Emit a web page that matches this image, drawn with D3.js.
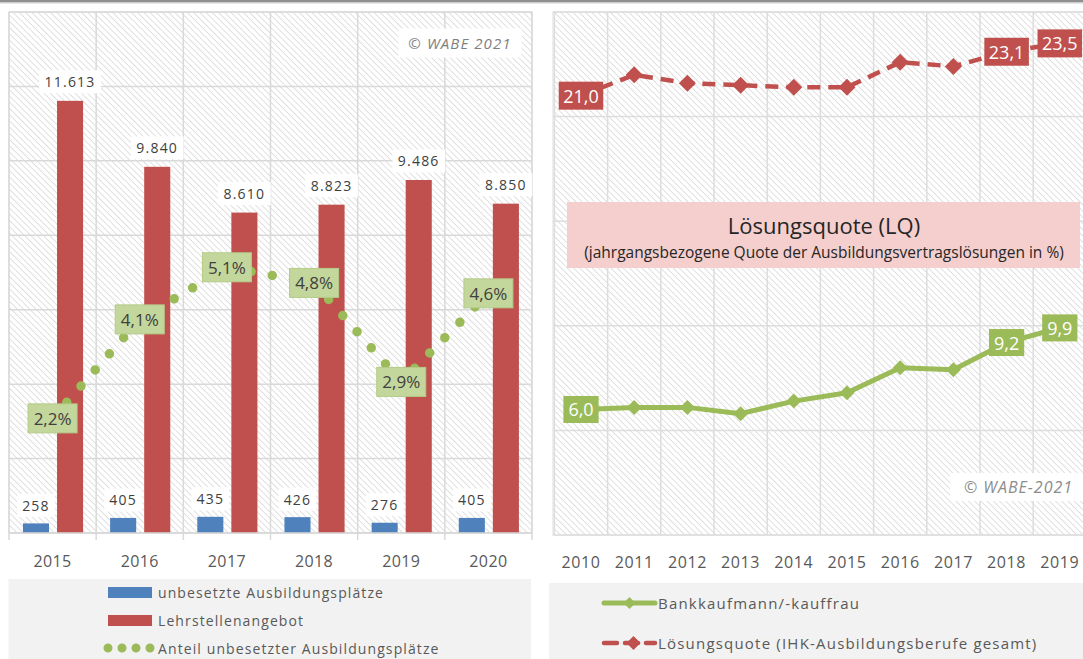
<!DOCTYPE html>
<html>
<head>
<meta charset="utf-8">
<script src="https://cdn.jsdelivr.net/npm/d3@7"></script>
<style>
  body { margin: 0; background: #fff; }
  svg { display: block; }
  text { font-family: "Open Sans", sans-serif; }
</style>
</head>
<body>
<div id="chart"></div>
<script>
// left chart: offer vs. unfilled training places
var leftYears = ['2015', '2016', '2017', '2018', '2019', '2020'];
var unbesetzt = [258, 405, 435, 426, 276, 405];
var angebot = [11613, 9840, 8610, 8823, 9486, 8850];
var anteil = [2.2, 4.1, 5.1, 4.8, 2.9, 4.6];
var leftTicks = [0, 2000, 4000, 6000, 8000, 10000, 12000, 14000];

// right chart: Lösungsquote
var rightYears = ['2010', '2011', '2012', '2013', '2014', '2015', '2016', '2017', '2018', '2019'];
var bankkaufleute = [6.0, 6.1, 6.1, 5.8, 6.4, 6.8, 8.0, 7.9, 9.2, 9.9];
var ihkGesamt = [21.0, 22.0, 21.6, 21.5, 21.4, 21.4, 22.6, 22.4, 23.1, 23.5];
var rightTicks = [0, 5, 10, 15, 20, 25];

var legendLeft = ['unbesetzte Ausbildungsplätze', 'Lehrstellenangebot', 'Anteil unbesetzter Ausbildungsplätze'];
var legendRight = ['Bankkaufmann/-kauffrau', 'Lösungsquote (IHK-Ausbildungsberufe gesamt)'];

(function(d3){
  var BLUE = '#4f81bd', RED = '#c0504d', GREEN = '#9bbb59', GRID = '#d9d9d9', AXIS_TXT = '#595959';

  var de = d3.formatLocale({ decimal: ',', thousands: '.', grouping: [3], currency: ['', ' €'] });
  var fmtInt = de.format(',d');
  var fmt1 = de.format('.1f');

  var svg = d3.select('#chart').append('svg')
    .attr('width', 1083)
    .attr('height', 659);

  svg.append('rect').attr('width', 1083).attr('height', 659).attr('fill', '#fff');

  // diagonal hatch used as plot background
  var defs = svg.append('defs');
  defs.append('pattern')
      .attr('id', 'hatch')
      .attr('patternUnits', 'userSpaceOnUse')
      .attr('width', 4.4)
      .attr('height', 10)
      .attr('patternTransform', 'rotate(-45)')
    .append('line')
      .attr('x1', 0).attr('y1', 0).attr('x2', 0).attr('y2', 10)
      .attr('stroke', '#d0d0d0')
      .attr('stroke-width', 1.3);

  // window border at the top
  svg.append('rect').attr('x', 0).attr('y', 0).attr('width', 1083).attr('height', 2).attr('fill', '#8f8f8f');
  svg.append('rect').attr('x', 0).attr('y', 2).attr('width', 1083).attr('height', 1.5).attr('fill', '#cdcdcd');

  function boxLabel(g, x, y, txt, o){
    var grp = g.append('g');
    var t = grp.append('text')
      .attr('x', x).attr('y', y)
      .attr('text-anchor', 'middle')
      .attr('dominant-baseline', 'central')
      .attr('font-size', o.size)
      .attr('letter-spacing', o.ls || 0)
      .attr('fill', o.color)
      .text(txt);
    var bb = t.node().getBBox();
    var w = o.w || bb.width + 2 * o.px;
    var h = o.h || bb.height + 2 * o.py;
    grp.insert('rect', 'text')
      .attr('x', x - w / 2).attr('y', y - h / 2)
      .attr('width', w).attr('height', h)
      .attr('fill', o.fill)
      .attr('stroke', o.stroke || 'none')
      .attr('stroke-width', 1);
    return grp;
  }

  function diamond(r){
    return 'M0,' + (-r) + 'L' + r + ',0L0,' + r + 'L' + (-r) + ',0Z';
  }

  /* ---------- left chart ---------- */
  var L = { left: 9, right: 532, top: 12, bottom: 533 };
  var gL = svg.append('g');

  var xL = d3.scaleBand().domain(leftYears).range([L.left, L.right]);
  var bw = xL.bandwidth();
  var xL1 = d3.scaleBand().domain(['u', 'a']).range([0.16 * bw, 0.85 * bw]).paddingInner(0.235);
  var yL = d3.scaleLinear().domain([0, 14000]).range([L.bottom, L.top]);
  var yP = d3.scaleLinear().domain([0, 10]).range([L.bottom, L.top]);

  gL.append('rect')
    .attr('x', L.left).attr('y', L.top)
    .attr('width', L.right - L.left).attr('height', L.bottom - L.top)
    .attr('fill', 'url(#hatch)')
    .attr('stroke', '#e0e0e0');

  gL.selectAll('.hgrid').data(leftTicks).enter().append('line')
    .attr('x1', L.left).attr('x2', L.right)
    .attr('y1', function(d){ return yL(d); }).attr('y2', function(d){ return yL(d); })
    .attr('stroke', GRID).attr('stroke-width', 1.5);

  var bounds = leftYears.map(function(d){ return xL(d); }).concat([L.right]);
  gL.selectAll('.vgrid').data(bounds).enter().append('line')
    .attr('x1', function(d){ return d; }).attr('x2', function(d){ return d; })
    .attr('y1', L.top).attr('y2', L.bottom + 7)
    .attr('stroke', GRID).attr('stroke-width', 1.5);

  gL.selectAll('.bar-u').data(unbesetzt).enter().append('rect')
    .attr('x', function(d, i){ return xL(leftYears[i]) + xL1('u'); })
    .attr('y', function(d){ return yL(d); })
    .attr('width', xL1.bandwidth())
    .attr('height', function(d){ return yL(0) - yL(d); })
    .attr('fill', BLUE);

  gL.selectAll('.bar-a').data(angebot).enter().append('rect')
    .attr('x', function(d, i){ return xL(leftYears[i]) + xL1('a'); })
    .attr('y', function(d){ return yL(d); })
    .attr('width', xL1.bandwidth())
    .attr('height', function(d){ return yL(0) - yL(d); })
    .attr('fill', RED);

  var cx = function(d, i){ return xL(leftYears[i]) + bw / 2; };

  gL.append('path')
    .datum(anteil)
    .attr('d', d3.line().x(cx).y(function(d){ return yP(d); }))
    .attr('fill', 'none')
    .attr('stroke', GREEN)
    .attr('stroke-width', 9.5)
    .attr('stroke-linecap', 'round')
    .attr('stroke-dasharray', '0 21.5');

  unbesetzt.forEach(function(d, i){
    boxLabel(gL, xL(leftYears[i]) + xL1('u') + xL1.bandwidth() / 2, yL(d) - 18, fmtInt(d),
      { size: 14, ls: 1.2, color: '#404040', fill: '#fff', px: 5, py: 2 });
  });
  angebot.forEach(function(d, i){
    boxLabel(gL, xL(leftYears[i]) + xL1('a') + xL1.bandwidth() / 2, yL(d) - 19, fmtInt(d),
      { size: 14, ls: 1.2, color: '#404040', fill: '#fff', px: 5.5, py: 2 });
  });
  anteil.forEach(function(d, i){
    boxLabel(gL, cx(d, i), yP(d), fmt1(d) + '%',
      { size: 17, color: '#404040', fill: '#c3d69b', stroke: '#b4cb88', w: 49, h: 29 });
  });

  boxLabel(gL, 460, 43, '© WABE 2021',
    { size: 15, ls: 1.1, color: '#7f7f7f', fill: '#fff', w: 123, h: 29 })
    .select('text').attr('font-style', 'italic');

  gL.append('line')
    .attr('x1', L.left).attr('x2', L.right)
    .attr('y1', L.bottom).attr('y2', L.bottom)
    .attr('stroke', GRID).attr('stroke-width', 1.5);

  gL.selectAll('.xlab').data(leftYears).enter().append('text')
    .attr('x', function(d){ return xL(d) + bw / 2; })
    .attr('y', 561)
    .attr('text-anchor', 'middle')
    .attr('dominant-baseline', 'central')
    .attr('font-size', 16)
    .attr('letter-spacing', 0.4)
    .attr('fill', AXIS_TXT)
    .text(function(d){ return d; });

  // legend
  var lgL = gL.append('g');
  lgL.append('rect').attr('x', 8.5).attr('y', 579).attr('width', 522.5).attr('height', 85).attr('fill', '#f2f2f2');
  lgL.append('rect').attr('x', 108).attr('y', 587).attr('width', 44).attr('height', 11).attr('fill', BLUE);
  lgL.append('rect').attr('x', 108).attr('y', 615).attr('width', 44).attr('height', 11).attr('fill', RED);
  lgL.append('line')
    .attr('x1', 108).attr('x2', 151).attr('y1', 648).attr('y2', 648)
    .attr('stroke', GREEN).attr('stroke-width', 9).attr('stroke-linecap', 'round')
    .attr('stroke-dasharray', '0 14');
  lgL.selectAll('.lt').data(legendLeft).enter().append('text')
    .attr('x', 158)
    .attr('y', function(d, i){ return [592, 620, 648][i]; })
    .attr('dominant-baseline', 'central')
    .attr('font-size', 14)
    .attr('letter-spacing', 1.1)
    .attr('fill', AXIS_TXT)
    .text(function(d){ return d; });

  /* ---------- right chart ---------- */
  var R = { left: 553, right: 1086.4, top: 12, bottom: 535 };
  var gR = svg.append('g');

  var xR = d3.scaleBand().domain(rightYears).range([554.4, R.right]);
  var bwR = xR.bandwidth();
  var yR = d3.scaleLinear().domain([0, 25]).range([R.bottom, R.top]);
  var px = function(d, i){ return xR(rightYears[i]) + bwR / 2; };

  gR.append('rect')
    .attr('x', R.left).attr('y', R.top)
    .attr('width', R.right - R.left).attr('height', R.bottom - R.top)
    .attr('fill', 'url(#hatch)')
    .attr('stroke', '#e0e0e0');

  gR.selectAll('.hgrid').data(rightTicks).enter().append('line')
    .attr('x1', R.left).attr('x2', R.right)
    .attr('y1', function(d){ return yR(d); }).attr('y2', function(d){ return yR(d); })
    .attr('stroke', '#dddddd').attr('stroke-width', 1.5);

  gR.selectAll('.vgrid').data(rightYears.map(function(d){ return xR(d); })).enter().append('line')
    .attr('x1', function(d){ return d; }).attr('x2', function(d){ return d; })
    .attr('y1', R.top).attr('y2', R.bottom)
    .attr('stroke', '#dddddd').attr('stroke-width', 1.5);

  // title box
  gR.append('rect')
    .attr('x', 567).attr('y', 202).attr('width', 513).attr('height', 66)
    .attr('fill', '#f4cfcd');
  gR.append('text')
    .attr('x', 824).attr('y', 225)
    .attr('text-anchor', 'middle').attr('dominant-baseline', 'central')
    .attr('font-size', 22).attr('fill', '#262626')
    .text('Lösungsquote (LQ)');
  gR.append('text')
    .attr('x', 824).attr('y', 251.5)
    .attr('text-anchor', 'middle').attr('dominant-baseline', 'central')
    .attr('font-size', 15.5).attr('fill', '#262626')
    .text('(jahrgangsbezogene Quote der Ausbildungsvertragslösungen in %)');

  var line = d3.line().x(px).y(function(d){ return yR(d); });

  gR.append('path').datum(ihkGesamt)
    .attr('d', line)
    .attr('fill', 'none')
    .attr('stroke', RED).attr('stroke-width', 4.5)
    .attr('stroke-dasharray', '13 8');
  gR.selectAll('.mk-ihk').data(ihkGesamt).enter().append('path')
    .attr('d', diamond(8.5))
    .attr('transform', function(d, i){ return 'translate(' + px(d, i) + ',' + yR(d) + ')'; })
    .attr('fill', RED);

  gR.append('path').datum(bankkaufleute)
    .attr('d', line)
    .attr('fill', 'none')
    .attr('stroke', GREEN).attr('stroke-width', 5)
    .attr('stroke-linejoin', 'round');
  gR.selectAll('.mk-bank').data(bankkaufleute).enter().append('path')
    .attr('d', diamond(7.5))
    .attr('transform', function(d, i){ return 'translate(' + px(d, i) + ',' + yR(d) + ')'; })
    .attr('fill', GREEN);

  // labels only for first and last two years
  [0, 8, 9].forEach(function(i){
    boxLabel(gR, px(0, i), yR(ihkGesamt[i]), fmt1(ihkGesamt[i]),
      { size: 18, color: '#fff', fill: RED, px: 4.5, h: 28 });
    boxLabel(gR, px(0, i), yR(bankkaufleute[i]), fmt1(bankkaufleute[i]),
      { size: 18, color: '#fff', fill: GREEN, px: 5, h: 27 });
  });

  boxLabel(gR, 1018.5, 487, '© WABE-2021',
    { size: 16, ls: 1, color: '#8c8c8c', fill: '#fff', w: 137, h: 28 })
    .select('text').attr('font-style', 'italic');

  gR.selectAll('.xlab').data(rightYears).enter().append('text')
    .attr('x', function(d){ return xR(d) + bwR / 2; })
    .attr('y', 562)
    .attr('text-anchor', 'middle')
    .attr('dominant-baseline', 'central')
    .attr('font-size', 16)
    .attr('letter-spacing', 0.6)
    .attr('fill', AXIS_TXT)
    .text(function(d){ return d; });

  // legend
  var lgR = gR.append('g');
  lgR.append('rect').attr('x', 549).attr('y', 583).attr('width', 540).attr('height', 80).attr('fill', '#f2f2f2');
  lgR.append('line')
    .attr('x1', 604).attr('x2', 655).attr('y1', 603).attr('y2', 603)
    .attr('stroke', GREEN).attr('stroke-width', 5).attr('stroke-linecap', 'round');
  lgR.append('path').attr('d', diamond(6)).attr('transform', 'translate(629.5,603)').attr('fill', GREEN);
  lgR.append('line')
    .attr('x1', 604).attr('x2', 655).attr('y1', 643).attr('y2', 643)
    .attr('stroke', RED).attr('stroke-width', 4.5).attr('stroke-linecap', 'round')
    .attr('stroke-dasharray', '13 8');
  lgR.append('path').attr('d', diamond(7)).attr('transform', 'translate(633.5,643)').attr('fill', RED);
  lgR.selectAll('.lt').data(legendRight).enter().append('text')
    .attr('x', 658)
    .attr('y', function(d, i){ return [603, 643][i]; })
    .attr('dominant-baseline', 'central')
    .attr('font-size', 15)
    .attr('letter-spacing', 1.2)
    .attr('fill', AXIS_TXT)
    .text(function(d){ return d; });
})(d3);
</script>
</body>
</html>
